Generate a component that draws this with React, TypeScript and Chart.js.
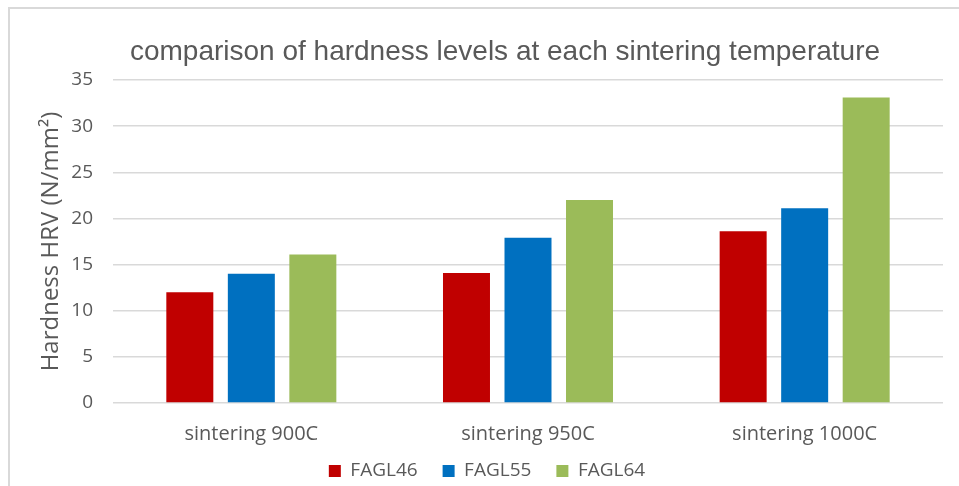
import React, { useEffect, useRef } from "react";
import { Chart, registerables } from "chart.js";

Chart.register(...registerables);

const categories = ["sintering 900C", "sintering 950C", "sintering 1000C"];
const seriesNames = ["FAGL46", "FAGL55", "FAGL64"];
const fagl46 = [12.0, 14.1, 18.6];
const fagl55 = [14.0, 17.9, 21.1];
const fagl64 = [16.1, 22.0, 33.1];
const seriesColors = ["#C00000", "#0070C0", "#9BBB59"];
const yMin = 0;
const yMax = 35;
const yStep = 5;
const chartTitle = "comparison of hardness levels at each sintering temperature";
const yAxisTitle = "Hardness HRV (N/mm²)";

const TEXT = "#595959";
const GRID = "#d9d9d9";

const framePlugin = {
  id: "frame",
  beforeDraw(chart: any) {
    const ctx = chart.ctx;
    ctx.save();
    ctx.strokeStyle = GRID;
    ctx.lineWidth = 2;
    ctx.beginPath();
    ctx.moveTo(9, 1000);
    ctx.lineTo(9, 8);
    ctx.lineTo(2000, 8);
    ctx.stroke();
    ctx.restore();
  },
};

const titlePlugin = {
  id: "customTitle",
  afterDraw(chart: any) {
    const ctx = chart.ctx;
    ctx.save();
    ctx.fillStyle = TEXT;
    ctx.font = '28px "Liberation Sans", Arial, sans-serif';
    ctx.textAlign = "center";
    ctx.textBaseline = "alphabetic";
    ctx.fillText(chartTitle, 505, 60);
    ctx.restore();
  },
};

// let the category labels extend below the (short) x-axis box without being clipped
const labelRoomPlugin = {
  id: "labelRoom",
  afterLayout(chart: any) {
    const x = chart.scales.x;
    if (x) x.bottom = x.bottom + 20;
  },
};

export default function App() {
  const ref = useRef<HTMLCanvasElement | null>(null);

  useEffect(() => {
    if (!ref.current) return;
    const values = [fagl46, fagl55, fagl64];
    const chart = new Chart(ref.current, {
      type: "bar",
      data: {
        labels: categories,
        datasets: seriesNames.map((name, i) => ({
          label: name,
          data: values[i],
          backgroundColor: seriesColors[i],
          borderWidth: 0,
          categoryPercentage: 0.667,
          barPercentage: 0.764,
        })),
      },
      options: {
        animation: false,
        responsive: false,
        maintainAspectRatio: false,
        devicePixelRatio: 1,
        layout: { padding: { left: 31, right: 16, top: 80, bottom: -4.5 } },
        plugins: {
          title: { display: false },
          tooltip: { enabled: false },
          legend: {
            position: "bottom",
            labels: {
              color: TEXT,
              boxWidth: 12,
              boxHeight: 12,
              padding: 25,
              font: { family: '"Open Sans", sans-serif', size: 19 },
            },
          },
        },
        scales: {
          x: {
            grid: { display: false, drawTicks: false },
            border: { display: false },
            ticks: {
              color: TEXT,
              padding: 19,
              font: { family: '"Open Sans", sans-serif', size: 20 },
            },
            afterFit: (s: any) => {
              s.height = 33.5;
            },
          },
          y: {
            min: yMin,
            max: yMax,
            grid: { color: GRID, lineWidth: 1.5, drawTicks: false },
            border: { display: false },
            ticks: {
              stepSize: yStep,
              color: TEXT,
              padding: 20,
              font: { family: '"Open Sans", sans-serif', size: 19 },
            },
            title: {
              display: true,
              text: yAxisTitle,
              color: TEXT,
              padding: { top: 6, bottom: 0 },
              font: { family: '"Open Sans", sans-serif', size: 24 },
            },
            afterFit: (s: any) => {
              s.width = 82;
            },
          },
        },
      },
      plugins: [framePlugin, titlePlugin, labelRoomPlugin],
    });
    return () => chart.destroy();
  }, []);

  return (
    <div style={{ position: "absolute", left: 0, top: 0, width: 959, height: 486, overflow: "hidden", background: "#fff" }}>
      <canvas ref={ref} width={959} height={486} style={{ width: 959, height: 486, display: "block" }} />
    </div>
  );
}
